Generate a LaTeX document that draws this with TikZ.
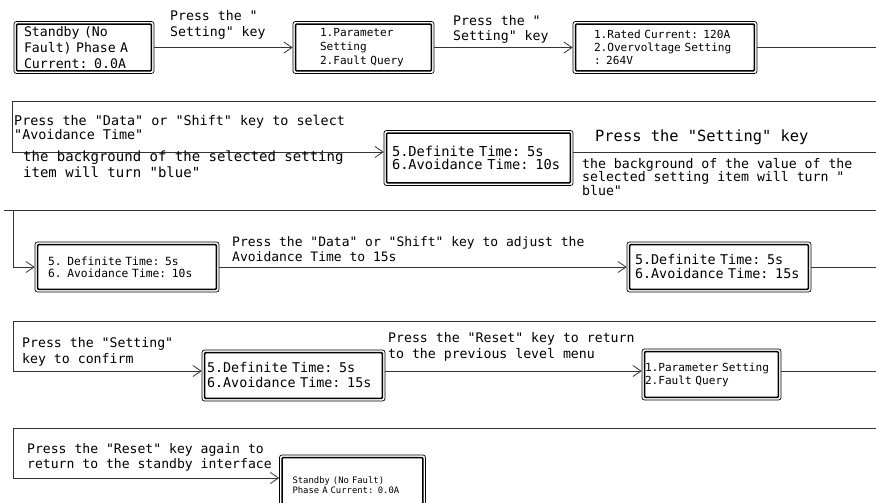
\documentclass[tikz,border=0pt]{standalone}
\usepackage{fontspec}
\setmonofont[WordSpace={1,0,0}]{DejaVu Sans Mono}
\usetikzlibrary{arrows.meta,calc}

% font size helper: size and line skip in pt
\newcommand{\lcdfs}[2]{\ttfamily\fontsize{#1}{#2}\selectfont}

\tikzset{
  wire/.style={line width=0.8pt, draw=black!80},
  arr/.style={wire, -{Straight Barb[length=8pt,width=11pt]}},
  lcd/.style={draw, line width=0.7pt, rounded corners=2.5pt,
    inner ysep=0pt, align=left,
    path picture={\draw[line width=1.5pt, rounded corners=1pt]
      ([shift={(2.6pt,2.6pt)}]path picture bounding box.south west) rectangle
      ([shift={(-2.6pt,-2.6pt)}]path picture bounding box.north east);}},
  note/.style={anchor=west, inner sep=0pt, align=left}
}

\begin{document}
\begin{tikzpicture}[x=1pt,y=-1pt]
\useasboundingbox (0,0) rectangle (876,503);
\clip (0,0) rectangle (876,503);

% ---------- row 1 ----------
\node[lcd, minimum width=140pt, minimum height=52pt, text width=120pt, inner xsep=10pt,
  font=\lcdfs{13.2}{16}]
  (A) at (84,47.5) {Standby (No\\Fault) Phase A\\Current: 0.0A};
\node[lcd, minimum width=141pt, minimum height=52pt, text width=87pt, inner xsep=27pt,
  font=\lcdfs{11.1}{14}]
  (B) at (363.5,47.5) {1.Parameter\\Setting\\2.Fault Query};
\node[lcd, minimum width=184pt, minimum height=52pt, text width=142pt, inner xsep=21pt,
  font=\lcdfs{11.1}{13}]
  (C) at (665,47.5) {1.Rated Current: 120A\\2.Overvoltage Setting\\: 264V};
\coordinate (r1e) at (876,47.5);

\draw[arr] (A.east) -- (B.west);
\draw[arr] (B.east) -- (C.west);
\draw[wire] (C.east) -- (r1e);
\node[note, font=\lcdfs{13.2}{16}] (t1) at (170,25) {Press the "\\Setting" key};
\node[note, font=\lcdfs{13.2}{15}] (t2) at (453,29) {Press the "\\Setting" key};

% ---------- row 2 ----------
\node[lcd, minimum width=189pt, minimum height=55pt, text width=173pt, inner xsep=8pt,
  font=\lcdfs{13.7}{13.5}]
  (D) at (478.5,158) {5.Definite Time: 5s\\6.Avoidance Time: 10s};
\coordinate (r2s) at (876,101);
\coordinate (r2c) at (12.5,101);
\coordinate (r2e) at (876,152);
\draw[arr] (r2s) -- (r2c) |- ([yshift=6pt]D.west);
\draw[wire] ([yshift=6pt]D.east) -- (r2e);
\node[note, font=\lcdfs{13.4}{14}] (t3) at (14,127)
  {Press the "Data" or "Shift" key to select\\"Avoidance Time"};
\node[note, font=\lcdfs{14}{16}] (t4) at (23,164)
  {the background of the selected setting\\item will turn "blue"};
\node[note, font=\lcdfs{15.4}{18}] (t5) at (595,137) {Press the "Setting" key};
\node[note, font=\lcdfs{13.2}{12.5}] (t6) at (582,177)
  {the background of the value of the\\selected setting item will turn "\\blue"};

% ---------- row 3 ----------
\node[lcd, minimum width=184pt, minimum height=50pt, text width=158pt, inner xsep=13pt,
  font=\lcdfs{11.3}{12}]
  (E) at (127,267) {5. Definite Time: 5s\\6. Avoidance Time: 10s};
\node[lcd, minimum width=184pt, minimum height=50pt, text width=168pt, inner xsep=8pt,
  font=\lcdfs{13.4}{14}]
  (F) at (719,267) {5.Definite Time: 5s\\6.Avoidance Time: 15s};
\coordinate (r3s) at (876,210);
\coordinate (r3l) at (4,210);
\coordinate (r3c) at (13,210);
\coordinate (r3e) at (876,267);
\draw[wire] (r3s) -- (r3l);
\draw[arr] (r3c) |- (E.west);
\draw[arr] (E.east) -- (F.west);
\draw[wire] (F.east) -- (r3e);
\node[note, font=\lcdfs{13}{15}] (t7) at (232,249.5)
  {Press the "Data" or "Shift" key to adjust the\\Avoidance Time to 15s};

% ---------- row 4 ----------
\node[lcd, minimum width=183pt, minimum height=51pt, text width=173pt, inner xsep=5pt,
  font=\lcdfs{13.4}{15}]
  (G) at (293.5,375.5) {5.Definite Time: 5s\\6.Avoidance Time: 15s};
\node[lcd, minimum width=139pt, minimum height=51pt, text width=133pt, inner xsep=3pt,
  font=\lcdfs{11.1}{13}]
  (H) at (711.5,374.5) {1.Parameter Setting\\2.Fault Query};
\coordinate (r4s) at (876,321);
\coordinate (r4c) at (13,321);
\coordinate (r4e) at (876,371);
\draw[arr] (r4s) -- (r4c) |- ([yshift=4.5pt]G.west);
\draw[arr] ([yshift=4.5pt]G.east) -- ([yshift=4.5pt]G.east -| H.west);
\draw[wire] (H.east |- r4e) -- (r4e);
\node[note, font=\lcdfs{13.2}{16}] (t8) at (22,351.5) {Press the "Setting"\\key to confirm};
\node[note, font=\lcdfs{13.2}{16}] (t9) at (388,347)
  {Press the "Reset" key to return\\to the previous level menu};

% ---------- row 5 ----------
\node[lcd, minimum width=139pt, minimum height=60pt, text width=120pt, inner xsep=13pt,
  font=\lcdfs{8.9}{10}]
  (I) at (352.5,485) {Standby (No Fault)\\Phase A Current: 0.0A};
\coordinate (r5s) at (876,428);
\coordinate (r5c) at (13,428);
\draw[arr] (r5s) -- (r5c) |- ([yshift=7pt]I.west);
\node[note, font=\lcdfs{13.1}{15}] (t10) at (27,457)
  {Press the "Reset" key again to\\return to the standby interface};
\end{tikzpicture}
\end{document}
